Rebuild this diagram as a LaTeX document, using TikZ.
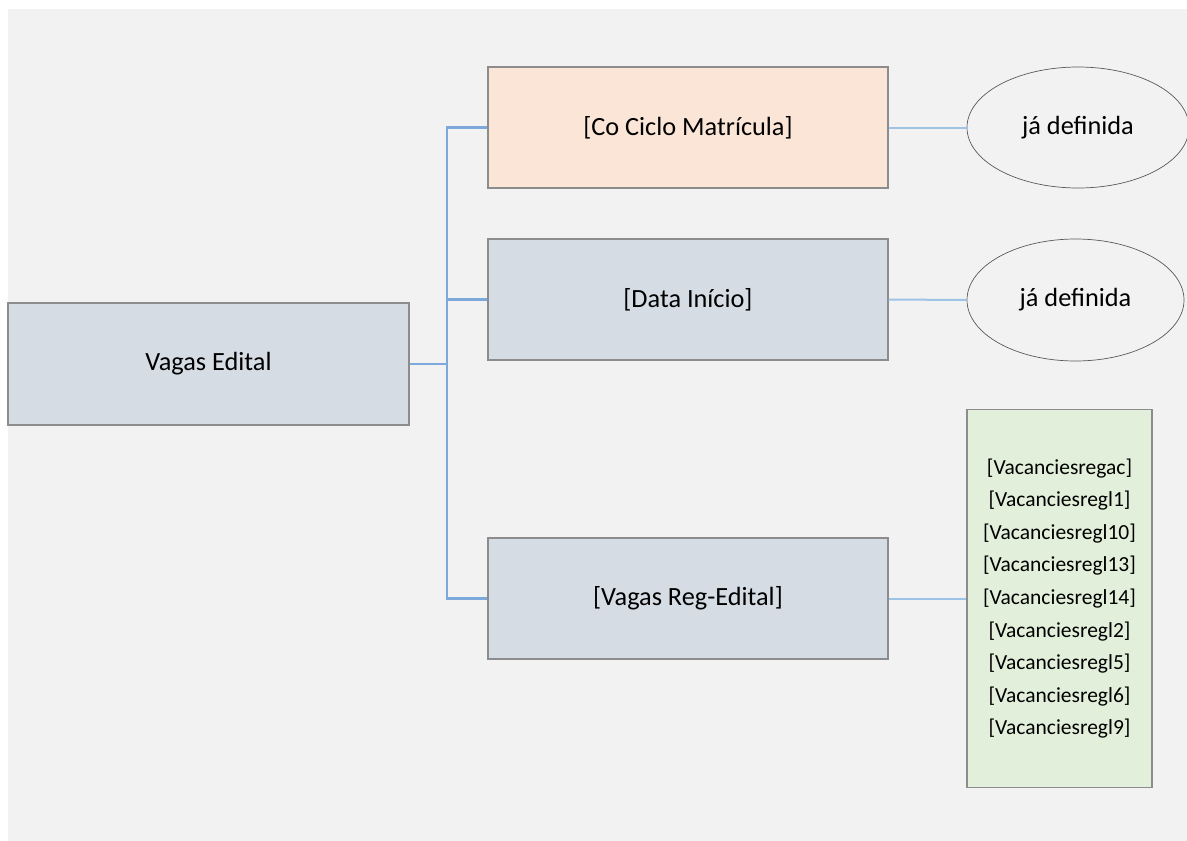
\documentclass[tikz,border=0pt]{standalone}
\usepackage{fontspec}
\setmainfont{Carlito}
\usetikzlibrary{shapes.geometric}
\definecolor{bgc}{HTML}{F2F2F2}
\definecolor{boxblue}{HTML}{D6DCE4}
\definecolor{peach}{HTML}{FBE5D6}
\definecolor{lgreen}{HTML}{E2EFDA}
\definecolor{edgegray}{HTML}{8C8C8C}
\definecolor{treeblue}{HTML}{7CA8DC}
\definecolor{lightblue}{HTML}{9DC3E6}
\definecolor{ellgray}{HTML}{595959}
\begin{document}
\begin{tikzpicture}[x=1pt,y=-1pt,
  box/.style={draw=edgegray, line width=1.2pt, rectangle, inner sep=0pt, font=\fontsize{26.3}{30}\selectfont, text=black},
  oval/.style={draw=ellgray, line width=0.7pt, ellipse, fill=bgc, inner sep=0pt, font=\fontsize{26.3}{30}\selectfont},
  tree/.style={draw=treeblue, line width=2.4pt},
  leaf/.style={draw=lightblue, line width=2pt}]
\useasboundingbox (0,0) rectangle (1187,841);
\fill[white] (0,0) rectangle (1187,841);
\fill[bgc] (8,9) rectangle (1187,841);

\node[box, fill=boxblue, minimum width=401pt, minimum height=122pt] (root) at (208.5,364) {Vagas Edital};
\node[box, fill=peach, minimum width=400pt, minimum height=121pt] (c1) at (688,127.5) {[Co Ciclo Matrícula]};
\node[box, fill=boxblue, minimum width=400pt, minimum height=121pt] (c2) at (688,299.5) {[Data Início]};
\node[box, fill=boxblue, minimum width=400pt, minimum height=121pt] (c3) at (688,598.5) {[Vagas Reg-Edital]};

\node[oval, minimum width=222pt, minimum height=121pt] (e1) at (1078,127.5) {já definida};
\node[oval, minimum width=217pt, minimum height=122pt] (e2) at (1075.5,300) {já definida};
\node[box, fill=lgreen, minimum width=185pt, minimum height=378pt, align=center,
      font=\fontsize{21.5}{32.6}\selectfont] (g) at (1059.5,598.5)
  {{[}Vacanciesregac{]}\\{[}Vacanciesregl1{]}\\{[}Vacanciesregl10{]}\\{[}Vacanciesregl13{]}\\{[}Vacanciesregl14{]}\\{[}Vacanciesregl2{]}\\{[}Vacanciesregl5{]}\\{[}Vacanciesregl6{]}\\{[}Vacanciesregl9{]}};

\coordinate (j) at (447,364);
\draw[tree] (root.east) -- (j);
\draw[tree] (c1.west) -| (j |- c3.west) -- (c3.west);
\draw[tree] (c2.west) -- (j |- c2.west);

\draw[leaf] (c1.east) -- (e1.west);
\draw[leaf] (c2.east) -- (e2.west);
\draw[leaf] (c3.east) -- (g.west);
\end{tikzpicture}
\end{document}
